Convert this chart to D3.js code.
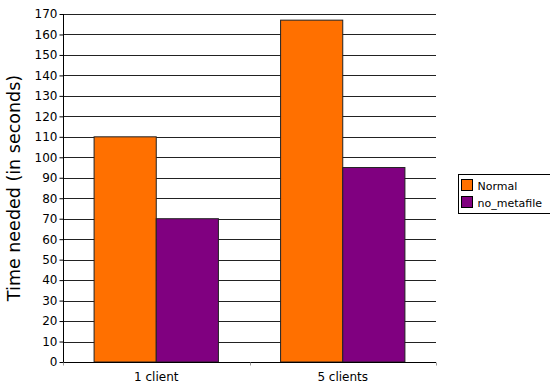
<!DOCTYPE html>
<html><head><meta charset="utf-8">
<script src="https://cdn.jsdelivr.net/npm/d3@7"></script>
<style>body{margin:0;background:#fff;} svg{display:block;font-family:"DejaVu Sans",sans-serif;}</style>
</head><body><svg id="c" width="550" height="382"></svg>
<script>
const categories = ["1 client", "5 clients"];
const seriesNames = ["Normal", "no_metafile"];
const normalValues = [110, 167];
const noMetafileValues = [70, 95];
const yTicks = d3.range(0, 171, 10);
const colors = ["#ff7000", "#800080"];

const svg = d3.select("#c");
const m = {l: 63, r: 436, t: 14, b: 362};
const x = d3.scaleBand().domain(categories).range([m.l, m.r]).paddingInner(0).paddingOuter(0);
const y = d3.scaleLinear().domain([0, 170]).range([m.b, m.t]);
const xs = d3.scaleBand().domain(seriesNames).range([0, x.bandwidth()]).paddingInner(0).paddingOuter(0.5);

// gridlines
svg.append("g").selectAll("line").data(yTicks.filter(d => d > 0)).join("line")
  .attr("x1", m.l).attr("x2", m.r)
  .attr("y1", d => Math.round(y(d)) + 0.5).attr("y2", d => Math.round(y(d)) + 0.5)
  .attr("stroke", "#222").attr("stroke-width", 1);

// bars
const data = categories.map((c, i) => ({c, vals: [normalValues[i], noMetafileValues[i]]}));
const g = svg.append("g").selectAll("g").data(data).join("g")
  .attr("transform", d => `translate(${x(d.c)},0)`);
g.selectAll("rect").data(d => d.vals.map((v, j) => ({v, s: seriesNames[j], j}))).join("rect")
  .attr("x", d => xs(d.s)).attr("width", xs.bandwidth())
  .attr("y", d => y(d.v)).attr("height", d => y(0) - y(d.v))
  .attr("fill", d => colors[d.j]).attr("stroke", "#222").attr("stroke-width", 1);

// y axis
const ya = svg.append("g").attr("transform", `translate(${m.l + 0.5},0)`)
  .call(d3.axisLeft(y).tickValues(yTicks).tickSize(4).tickPadding(2));
ya.select(".domain").attr("stroke", "#000").attr("d", `M0,${m.b}V${m.t}`);
ya.selectAll(".tick line").attr("stroke", "#000");
ya.selectAll("text").attr("font-size", 12).attr("fill", "#000").attr("font-family", "DejaVu Sans");

// x axis
const xa = svg.append("g").attr("transform", `translate(0,${Math.round(y(0)) + 0.5})`);
xa.append("line").attr("x1", m.l).attr("x2", m.r).attr("stroke", "#000");
xa.selectAll("line.t").data(d3.range(categories.length + 1)).join("line").attr("class", "t")
  .attr("x1", i => Math.round(m.l + i * x.bandwidth()) + 0.5).attr("x2", i => Math.round(m.l + i * x.bandwidth()) + 0.5)
  .attr("y1", 0).attr("y2", 3).attr("stroke", "#999");
xa.selectAll("text").data(categories).join("text")
  .attr("x", d => x(d) + x.bandwidth() / 2).attr("y", 18)
  .attr("text-anchor", "middle").attr("font-size", 12).text(d => d);

// y title
svg.append("text").attr("transform", "translate(20,188) rotate(-90)")
  .attr("text-anchor", "middle").attr("font-size", 17.5).attr("fill", "#000").text("Time needed (in seconds)");

// legend
const lg = svg.append("g").attr("transform", "translate(458.5,174.5)");
lg.append("rect").attr("width", 92).attr("height", 39).attr("fill", "#fff").attr("stroke", "#000");
const li = lg.selectAll("g").data(seriesNames).join("g").attr("transform", (d, i) => `translate(3,${5 + i * 17})`);
li.append("rect").attr("width", 11).attr("height", 11).attr("fill", (d, i) => colors[i]).attr("stroke", "#000");
li.append("text").attr("x", 16).attr("y", 10).attr("font-size", 11).text(d => d);
</script></body></html>
